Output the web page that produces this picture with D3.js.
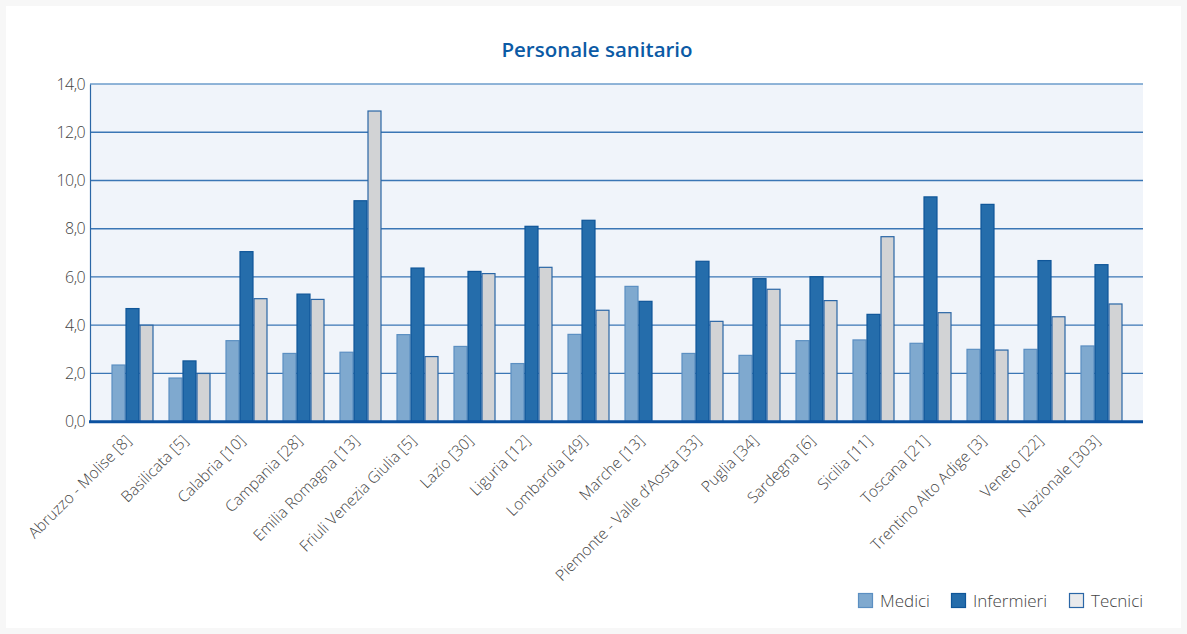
<!DOCTYPE html>
<html>
<head>
<meta charset="utf-8">
<script src="https://cdn.jsdelivr.net/npm/d3@7/dist/d3.min.js"></script>
<style>
  html, body { margin: 0; padding: 0; background: #f7f7f7; }
  svg { display: block; }
  text { font-family: "Open Sans", "Noto Sans", sans-serif; }
</style>
</head>
<body>
<svg id="chart" width="1187" height="634"></svg>
<script>
// Regioni (con numero di strutture tra parentesi)
const categories = [
  "Abruzzo - Molise [8]", "Basilicata [5]", "Calabria [10]", "Campania [28]",
  "Emilia Romagna [13]", "Friuli Venezia Giulia [5]", "Lazio [30]", "Liguria [12]",
  "Lombardia [49]", "Marche [13]", "Piemonte - Valle d\u2019Aosta [33]", "Puglia [34]",
  "Sardegna [6]", "Sicilia [11]", "Toscana [21]", "Trentino Alto Adige [3]",
  "Veneto [22]", "Nazionale [303]"
];
const seriesNames = ["Medici", "Infermieri", "Tecnici"];
const medici     = [2.35, 1.81, 3.36, 2.83, 2.88, 3.61, 3.12, 2.41, 3.62, 5.61, 2.83, 2.75, 3.36, 3.39, 3.25, 3.00, 3.00, 3.14];
const infermieri = [4.69, 2.52, 7.05, 5.29, 9.16, 6.37, 6.23, 8.10, 8.35, 4.99, 6.65, 5.93, 6.01, 4.45, 9.32, 9.01, 6.68, 6.51];
const tecnici    = [4.00, 2.00, 5.10, 5.07, 12.88, 2.70, 6.14, 6.40, 4.62, 0, 4.16, 5.49, 5.02, 7.67, 4.52, 2.97, 4.35, 4.88];
const yTicks = [0, 2, 4, 6, 8, 10, 12, 14];

const seriesValues = [medici, infermieri, tecnici];
const fills   = ["#7fa9cf", "#256dab", "#d2d3d5"];
const strokes = ["#5b8fc2", "#0f5699", "#2a66a6"];

const svg = d3.select("#chart");
const W = 1187, H = 634;

// card
svg.append("rect").attr("x", 6).attr("y", 6).attr("width", W - 12).attr("height", H - 12)
  .attr("fill", "#ffffff");

const plotL = 90, plotR = 1143, plotT = 84, plotB = 421.7;

const x = d3.scaleBand().domain(categories).range([plotL + 14, plotR - 13]).paddingInner(0).paddingOuter(0);
const groupW = 42;
const xs = d3.scaleBand().domain(seriesNames).range([0, groupW]);
const y = d3.scaleLinear().domain([0, 14]).range([plotB, plotT]);

// plot background
svg.append("rect").attr("x", plotL).attr("y", plotT).attr("width", plotR - plotL).attr("height", plotB - plotT)
  .attr("fill", "#f0f4fa");

// gridlines
svg.append("g").selectAll("line").data(yTicks.filter(d => d > 0)).join("line")
  .attr("x1", plotL).attr("x2", plotR)
  .attr("y1", d => y(d)).attr("y2", d => y(d))
  .attr("stroke", d => d === 14 ? "#6d9ccb" : "#3a76b5")
  .attr("stroke-width", 1.3);

// y axis
const yAxis = d3.axisLeft(y).tickValues(yTicks).tickSize(0).tickPadding(5)
  .tickFormat(d => d3.format(".1f")(d).replace(".", ","));
const yg = svg.append("g").attr("transform", `translate(${plotL},0)`).call(yAxis);
yg.select(".domain").attr("stroke", "#2a66a6").attr("stroke-width", 1.2);
yg.selectAll("text").attr("font-size", 16).attr("fill", "#444").attr("font-weight", 300)
  .attr("letter-spacing", "-0.6px");

// bars
const groups = svg.append("g").selectAll("g").data(categories).join("g")
  .attr("transform", d => `translate(${x(d) + (x.bandwidth() - groupW) / 2},0)`);
groups.selectAll("rect")
  .data((c, i) => seriesNames.map((s, k) => ({ s, k, v: seriesValues[k][i] })).filter(d => d.v > 0))
  .join("rect")
  .attr("x", d => xs(d.s) + 0.5)
  .attr("width", xs.bandwidth() - 1)
  .attr("y", d => y(d.v))
  .attr("height", d => plotB - y(d.v))
  .attr("fill", d => fills[d.k])
  .attr("stroke", d => strokes[d.k])
  .attr("stroke-width", 1.2);

// x axis baseline and rotated category labels
const xAxis = d3.axisBottom(x).tickSize(0).tickPadding(0);
const xg = svg.append("g").attr("transform", `translate(0,${plotB})`).call(xAxis);
xg.select(".domain").remove();
svg.append("line").attr("x1", plotL - 1).attr("x2", plotR).attr("y1", plotB).attr("y2", plotB)
  .attr("stroke", "#0c52a0").attr("stroke-width", 3);
xg.selectAll("text")
  .attr("font-size", 15.5).attr("font-weight", 300).attr("fill", "#444")
  .attr("text-anchor", "end")
  .attr("transform", "translate(-4,16) rotate(-45)")
  .attr("dy", "0.35em");

// title
svg.append("text").attr("x", 597).attr("y", 57).attr("text-anchor", "middle")
  .attr("font-size", 20.5).attr("font-weight", 600).attr("fill", "#0b5aa5")
  .text("Personale sanitario");

// legend
const legendX = [858, 951, 1069];
const lg = svg.append("g").selectAll("g").data(seriesNames).join("g")
  .attr("transform", (d, i) => `translate(${legendX[i]},593)`);
lg.append("rect").attr("x", 0.5).attr("y", 0.5).attr("width", 14).attr("height", 14)
  .attr("fill", (d, i) => i === 2 ? "#e9eaec" : fills[i])
  .attr("stroke", (d, i) => strokes[i]).attr("stroke-width", 1.2);
lg.append("text").attr("x", 22).attr("y", 13.5).attr("font-size", 17).attr("font-weight", 300)
  .attr("fill", "#444")
  .text(d => d);
</script>
</body>
</html>
